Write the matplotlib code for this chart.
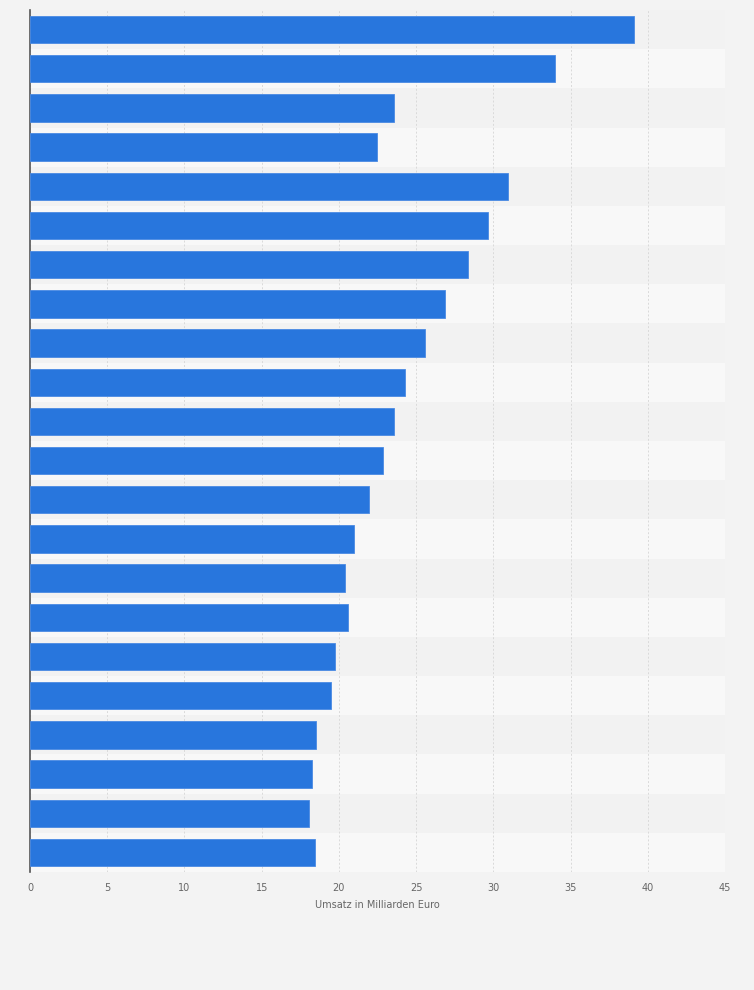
import matplotlib
matplotlib.use("Agg")
import matplotlib.pyplot as plt
import numpy as np

# Data (categories not labelled in the reference)
categories = [f"Rang {i}" for i in range(1, 23)]
values = [39.1, 34.0, 23.6, 22.45, 30.95, 29.65, 28.35, 26.85, 25.55, 24.3,
          23.55, 22.85, 21.95, 20.95, 20.4, 20.6, 19.75, 19.5, 18.55, 18.25,
          18.05, 18.45]
xticks = [0, 5, 10, 15, 20, 25, 30, 35, 40, 45]
xlabel = "Umsatz in Milliarden Euro"

W, H = 754, 990
fig = plt.figure(figsize=(W / 100, H / 100), dpi=100, facecolor="#f3f3f3")
ax = fig.add_axes([30 / W, 1 - 872 / H, (725 - 30) / W, (872 - 10) / H])
ax.set_facecolor("#f3f3f3")

n = len(values)
y = np.arange(n)
for i in range(n):
    ax.axhspan(i - 0.5, i + 0.5, color="#f2f2f2" if i % 2 == 0 else "#f8f8f8",
               zorder=0, lw=0)

ax.barh(y, values, height=0.7, color="#2876dd", edgecolor="#4a8ae3",
        linewidth=0.6, zorder=3)

ax.set_xlim(0, 45)
ax.set_ylim(n - 0.5, -0.5)
ax.set_xticks(xticks)
ax.set_xticklabels([str(t) for t in xticks])
ax.set_yticks(y)
ax.set_yticklabels([])
ax.tick_params(axis="y", length=0)
ax.tick_params(axis="x", length=0, labelsize=7, labelcolor="#666666", pad=8)
ax.xaxis.grid(True, color="#dadada", linestyle=(0, (2, 2)), linewidth=0.7, zorder=1)
ax.set_axisbelow(True)

for s in ["top", "right", "bottom"]:
    ax.spines[s].set_visible(False)
ax.spines["left"].set_color("#555555")
ax.spines["left"].set_linewidth(1.2)

ax.set_xlabel(xlabel, fontsize=7, color="#666666", labelpad=5)

fig.savefig("out.png", dpi=100, facecolor=fig.get_facecolor())
